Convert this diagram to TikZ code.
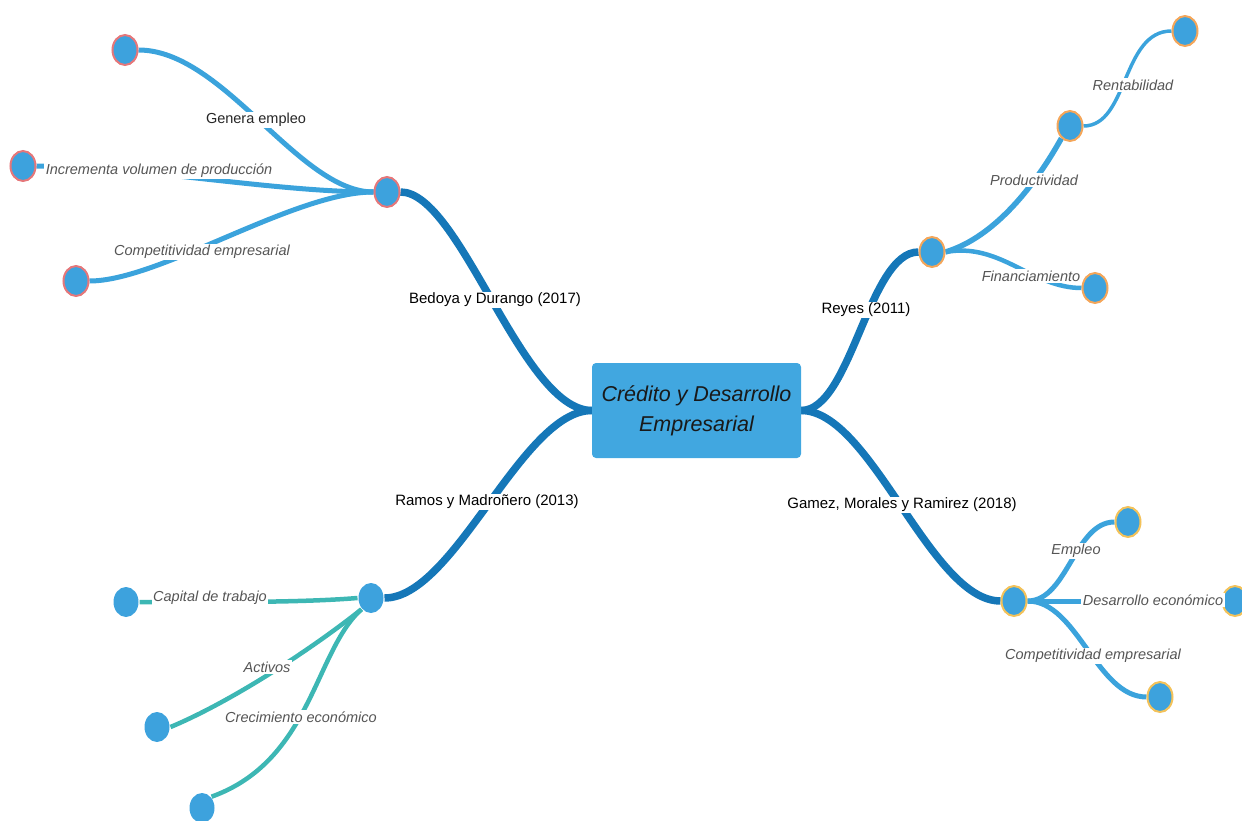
\documentclass[tikz,border=0pt]{standalone}
\usepackage{fontspec}
\setmainfont{Liberation Sans}
\usetikzlibrary{backgrounds,shapes.geometric}
\definecolor{darkb}{HTML}{1577B8}
\definecolor{midb}{HTML}{3BA3DC}
\definecolor{tealc}{HTML}{3DB7B4}
\definecolor{nodefill}{HTML}{3DA2DD}
\definecolor{boxfill}{HTML}{41A7E0}
\definecolor{redb}{HTML}{E5777A}
\definecolor{orangeb}{HTML}{F4A65A}
\definecolor{yellowb}{HTML}{F3C25A}
\definecolor{labgray}{HTML}{555555}
\tikzset{
  dot/.style={ellipse, fill=nodefill, minimum width=25pt, minimum height=30pt, inner sep=0pt, line width=2pt},
  mainline/.style={draw=darkb, line width=7.5pt},
  subline/.style={draw=midb, line width=5pt},
  tealline/.style={draw=tealc, line width=4.5pt},
  mainlab/.style={fill=white, inner sep=1.5pt, text=black, font=\fontsize{15}{17}\selectfont},
  sublab/.style={fill=white, inner sep=1.5pt, text=labgray, font=\fontsize{14.5}{17}\selectfont\itshape},
}
\begin{document}
\begin{tikzpicture}[x=1pt,y=-1pt]
\useasboundingbox (0,0) rectangle (1242,821);
% central box
\node[fill=boxfill, rounded corners=4pt, minimum width=209pt, minimum height=95pt, align=center,
      font=\fontsize{21.5}{30}\selectfont\itshape, text=black!90] (c) at (696.5,410.5)
      {Crédito y Desarrollo\\Empresarial};
% main nodes
\node[dot, draw=redb] (b) at (387,192) {};
\node[dot, draw=orangeb] (r) at (932,252) {};
\node[dot, draw=yellowb] (g) at (1014,601) {};
\node[dot] (m) at (371,598) {};
% leaves
\node[dot, draw=redb] (b1) at (125,50) {};
\node[dot, draw=redb] (b2) at (23,166) {};
\node[dot, draw=redb] (b3) at (76,281) {};
\node[dot, draw=orangeb] (r1) at (1070,126) {};
\node[dot, draw=orangeb] (r2) at (1185,31) {};
\node[dot, draw=orangeb] (r3) at (1095,288) {};
\node[dot, draw=yellowb] (g1) at (1128,522) {};
\node[dot, draw=yellowb] (g2) at (1235,601) {};
\node[dot, draw=yellowb] (g3) at (1160,697) {};
\node[dot] (m1) at (126,602) {};
\node[dot] (m2) at (157,727) {};
\node[dot] (m3) at (202,808) {};
\begin{scope}[on background layer]
% main branches
\draw[mainline] (c.west) .. controls +(-70,0) and +(60,0) .. (b.east);
\draw[mainline] (c.west) .. controls +(-70,0) and +(70,0) .. (m.east);
\draw[mainline] (c.east) .. controls +(50,0) and +(-50,0) .. (r.west);
\draw[mainline] (c.east) .. controls +(70,0) and +(-70,0) .. (g.west);
% Bedoya
\draw[subline] (b.west) .. controls +(-75,0) and +(85,0) .. (b1.east);
\draw[subline] (b.west) .. controls +(-100,0) and +(100,0) .. (b2.east);
\draw[subline] (b.west) .. controls +(-80,0) and +(70,0) .. (b3.east);
% Reyes
\draw[subline, line width=5.5pt] (r.east) .. controls +(50,-15) and +(-25,45) .. (r1.235);
\draw[subline, line width=3.5pt] (r1.east) .. controls +(45,0) and +(-50,0) .. (r2.west);
\draw[subline, line width=4.5pt] (r.east) .. controls +(55,-10) and +(-50,0) .. (r3.west);
% Gamez
\draw[subline] (g.east) .. controls +(40,0) and +(-40,0) .. (g1.west);
\draw[subline] (g.east) -- (g2.west);
\draw[subline] (g.east) .. controls +(50,0) and +(-50,0) .. (g3.west);
% Ramos
\draw[tealline] (m.west) .. controls +(-60,5) and +(60,0) .. (m1.east);
\draw[tealline] (m.south west) .. controls +(-50,40) and +(60,-25) .. (m2.east);
\draw[tealline] (m.south west) .. controls +(-47,42) and +(100,-36) .. (m3.north east);
\end{scope}
% labels
\node[mainlab] (lb) at (495,300) {Bedoya y Durango (2017)};
\node[mainlab] (lm) at (487,502) {Ramos y Madroñero (2013)};
\node[mainlab] (lr) at (866,310) {Reyes (2011)};
\node[mainlab] (lg) at (902,505) {Gamez, Morales y Ramirez (2018)};
\node[mainlab, font=\fontsize{14.5}{17}\selectfont, text=black!85] (lb1) at (256,120) {Genera empleo};
\node[sublab] (lb2) at (159,171) {Incrementa volumen de producción};
\node[sublab] (lb3) at (202,252) {Competitividad empresarial};
\node[sublab] (lr1) at (1034,180) {Productividad};
\node[sublab] (lr2) at (1133,85) {Rentabilidad};
\node[sublab] (lr3) at (1031,276) {Financiamiento};
\node[sublab] (lg1) at (1076,551) {Empleo};
\node[sublab] (lg2) at (1153,600) {Desarrollo económico};
\node[sublab] (lg3) at (1093,656) {Competitividad empresarial};
\node[sublab] (lm1) at (210,598) {Capital de trabajo};
\node[sublab] (lm2) at (267,667) {Activos};
\node[sublab] (lm3) at (301,717) {Crecimiento económico};
\end{tikzpicture}
\end{document}
